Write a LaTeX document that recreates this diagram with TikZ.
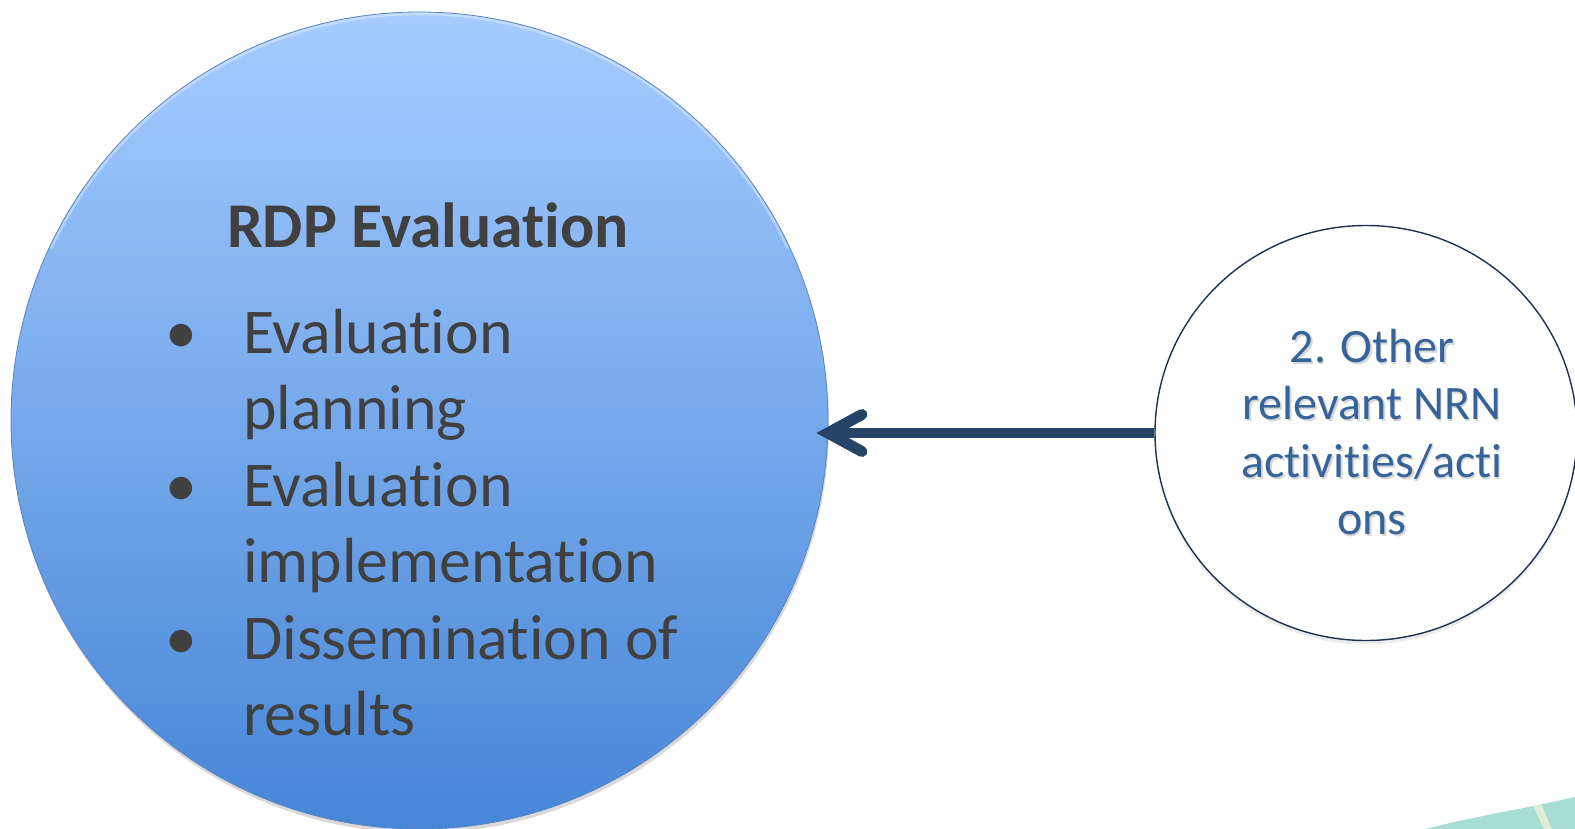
\documentclass[tikz,border=0pt]{standalone}
\usepackage{fontspec}
\setmainfont{Carlito}[Ligatures={NoCommon,NoContextual}]
\usetikzlibrary{arrows.meta,shadows,shapes.geometric}
\definecolor{txtgray}{HTML}{404040}
\definecolor{arrowc}{HTML}{264466}
\definecolor{smallblue}{HTML}{36649A}
\definecolor{circtop}{HTML}{A6CCFF}
\definecolor{circbot}{HTML}{4686D7}
\definecolor{circedge}{HTML}{5A83BF}
\definecolor{smalledge}{HTML}{1D3150}
\definecolor{tealc}{HTML}{A8DDD2}
\definecolor{stripec}{HTML}{EEF2D6}
\begin{document}
\begin{tikzpicture}[x=1pt,y=-1pt,
  bigcirc/.style={circle, minimum size=817pt, inner sep=0pt,
    top color=circtop, bottom color=circbot, draw=circedge, line width=0.8pt,
    drop shadow={opacity=0.3, shadow xshift=1pt, shadow yshift=-4pt}},
  smallcirc/.style={ellipse, minimum width=422pt, minimum height=415pt, inner sep=0pt,
    fill=white, draw=smalledge, line width=1.4pt,
    drop shadow={opacity=0.15, shadow xshift=0pt, shadow yshift=-4pt}},
  titletext/.style={font=\fontsize{63.8}{75}\selectfont\bfseries, text=txtgray, inner sep=0pt},
  itemtext/.style={font=\fontsize{63.8}{75}\selectfont, text=txtgray, inner sep=0pt, anchor=base west},
  bulletmark/.style={font=\fontsize{63.8}{75}\selectfont, text=txtgray, inner sep=0pt, anchor=base},
  smalltext/.style={font=\fontsize{48}{57}\selectfont, text=smallblue, inner sep=0pt, anchor=base},
  smallshadow/.style={font=\fontsize{48}{57}\selectfont, text=black, opacity=0.16, inner sep=0pt, anchor=base},
  connector/.style={draw=arrowc, line width=10pt,
    -{Straight Barb[length=34pt, width=37pt, line width=11pt, line cap=round, line join=miter]}},
]
\useasboundingbox (0,0) rectangle (1575,829);
\clip (0,0) rectangle (1575,829);

% corner decoration
\fill[tealc] (1425,829) .. controls (1480,815) and (1530,808) .. (1578,796) -- (1578,829) -- cycle;
\fill[stripec, opacity=0.8] (1533,806) -- (1541,804) -- (1552,829) -- (1544,829) -- cycle;

% big circle
\node[bigcirc] (big) at (419.5,420.5) {};
\draw[white, opacity=0.35, line width=2.5pt] (big.center) ++(205:406.5) arc[start angle=205, end angle=335, radius=406.5];

\node[titletext, anchor=base] (title) at (428,248) {RDP Evaluation};

\node[bulletmark] (b1) at (181,353) {•};
\node[itemtext] (i1a) at (243,353) {Evaluation};
\node[itemtext] (i1b) at (243,429.5) {planning};
\node[bulletmark] (b2) at (181,506) {•};
\node[itemtext] (i2a) at (243,506) {Evaluation};
\node[itemtext] (i2b) at (243,582.5) {implementation};
\node[bulletmark] (b3) at (181,659) {•};
\node[itemtext] (i3a) at (243,659) {Dissemination of};
\node[itemtext] (i3b) at (243,735.5) {results};

% small circle
\node[smallcirc] (small) at (1366,433) {};
\node[smallshadow] (s1) at (1373.5,364.5) {2. Other};
\node[smalltext] (t1) at (1372,362) {2. Other};
\node[smallshadow] (s2) at (1373.5,421.5) {relevant NRN};
\node[smalltext] (t2) at (1372,419) {relevant NRN};
\node[smallshadow] (s3) at (1373.5,479.5) {activities/acti};
\node[smalltext] (t3) at (1372,477) {activities/acti};
\node[smallshadow] (s4) at (1373.5,536.5) {ons};
\node[smalltext] (t4) at (1372,534) {ons};

% connector
\draw[connector, shorten >=-12pt] (small.west) -- (small.west -| big.east);
\end{tikzpicture}
\end{document}
